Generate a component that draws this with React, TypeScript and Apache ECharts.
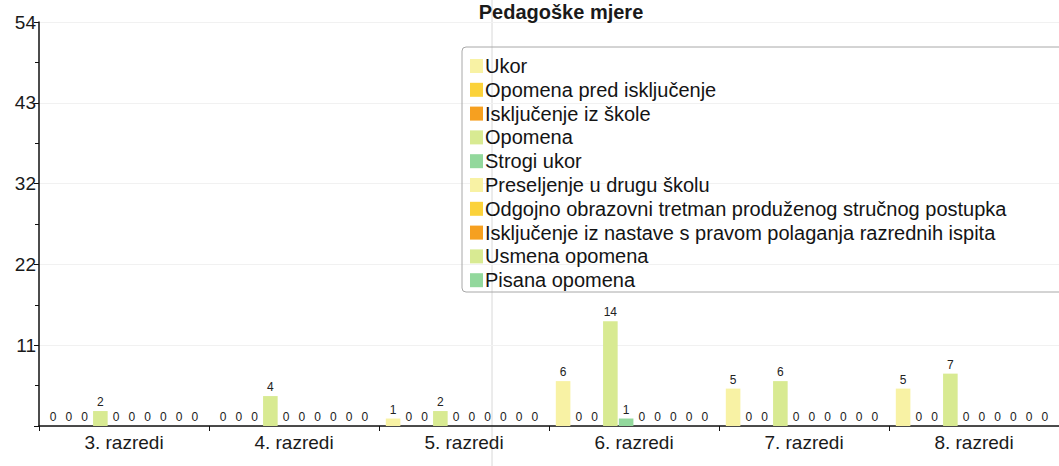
import React, { useEffect, useRef } from "react";
import * as echarts from "echarts";

const categories = ["3. razredi", "4. razredi", "5. razredi", "6. razredi", "7. razredi", "8. razredi"];
const seriesNames = [
  "Ukor",
  "Opomena pred isključenje",
  "Isključenje iz škole",
  "Opomena",
  "Strogi ukor",
  "Preseljenje u drugu školu",
  "Odgojno obrazovni tretman produženog stručnog postupka",
  "Isključenje iz nastave s pravom polaganja razrednih ispita",
  "Usmena opomena",
  "Pisana opomena",
];
const ukor = [0, 0, 1, 6, 5, 5];
const opomenaPredIskljucenje = [0, 0, 0, 0, 0, 0];
const iskljucenjeIzSkole = [0, 0, 0, 0, 0, 0];
const opomena = [2, 4, 2, 14, 6, 7];
const strogiUkor = [0, 0, 0, 1, 0, 0];
const preseljenje = [0, 0, 0, 0, 0, 0];
const odgojnoTretman = [0, 0, 0, 0, 0, 0];
const iskljucenjeIzNastave = [0, 0, 0, 0, 0, 0];
const usmenaOpomena = [0, 0, 0, 0, 0, 0];
const pisanaOpomena = [0, 0, 0, 0, 0, 0];
const seriesValues = [
  ukor,
  opomenaPredIskljucenje,
  iskljucenjeIzSkole,
  opomena,
  strogiUkor,
  preseljenje,
  odgojnoTretman,
  iskljucenjeIzNastave,
  usmenaOpomena,
  pisanaOpomena,
];
const colors = [
  "#f8f2a4",
  "#fbd23a",
  "#f6a020",
  "#d8ea92",
  "#92d89c",
  "#f8f2a4",
  "#fbd23a",
  "#f6a020",
  "#d8ea92",
  "#92d89c",
];
const yMax = 54;
const yInterval = 10.8;

const FONT = "'Liberation Sans', Arial, sans-serif";

export default function App() {
  const ref = useRef<HTMLDivElement>(null);
  useEffect(() => {
    if (!ref.current) return;
    const chart = echarts.init(ref.current, null, { renderer: "svg" });
    chart.setOption({
      animation: false,
      backgroundColor: "#ffffff",
      color: colors,
      textStyle: { fontFamily: FONT },
      title: {
        text: "Pedagoške mjere",
        left: 556,
        textAlign: "center",
        top: -3,
        textStyle: { fontSize: 20, fontWeight: "bold", color: "#1a1a1a", fontFamily: FONT },
      },
      graphic: [
        {
          type: "rect",
          shape: { x: 462, y: 47, width: 640, height: 245, r: 4 },
          style: { fill: "rgba(255,255,255,0)", stroke: "#a8a8a8", lineWidth: 1 },
          z: 1,
        },
        {
          type: "line",
          shape: { x1: 492, y1: 0, x2: 492, y2: 466 },
          style: { stroke: "#d8d8d8", lineWidth: 1 },
          z: 0,
        },
      ],
      legend: {
        orient: "vertical",
        left: 470,
        top: 56,
        padding: 0,
        itemWidth: 13,
        itemHeight: 14,
        itemGap: 3.8,
        icon: "rect",
        data: seriesNames,
        textStyle: { fontSize: 20, color: "#141414", lineHeight: 20, fontFamily: FONT, padding: [0, 0, 0, -3] },
        selectedMode: false,
      },
      grid: { left: 39, top: 22, width: 1032, bottom: 40, containLabel: false },
      xAxis: {
        type: "category",
        data: categories,
        axisLine: { lineStyle: { color: "#111", width: 1.5 } },
        axisTick: { show: true, length: 5, lineStyle: { color: "#111" } },
        axisLabel: { fontSize: 19, color: "#1a1a1a", margin: 7, fontFamily: FONT },
        splitLine: { show: false },
      },
      yAxis: {
        type: "value",
        min: 0,
        max: yMax,
        interval: yInterval,
        axisLine: { show: true, lineStyle: { color: "#111", width: 1.5 } },
        axisTick: { show: true, length: 5, lineStyle: { color: "#111" } },
        minorTick: { show: true, splitNumber: 2, length: 4, lineStyle: { color: "#111" } },
        axisLabel: {
          fontSize: 19,
          color: "#1a1a1a",
          margin: 3,
          fontFamily: FONT,
          formatter: (v: number) => (v === 0 ? "" : String(Math.round(v))),
        },
        splitLine: { show: true, lineStyle: { color: "#f1f1f1" } },
      },
      series: seriesNames.map((name, i) => ({
        name,
        type: "bar",
        data: seriesValues[i],
        barGap: "8%",
        barCategoryGap: "8%",
        itemStyle: { color: colors[i] },
        label: {
          show: true,
          position: "top",
          distance: 3,
          fontSize: 12,
          color: "#222",
          fontFamily: FONT,
        },
      })),
    });
    return () => chart.dispose();
  }, []);
  return <div ref={ref} style={{ width: 1059, height: 466, position: "absolute", left: 0, top: 0 }} />;
}
